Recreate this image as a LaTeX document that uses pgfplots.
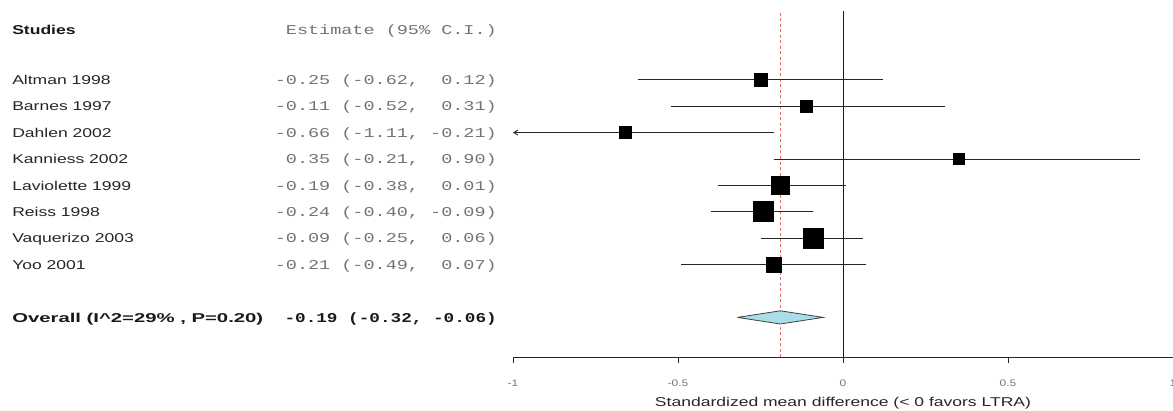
\documentclass[border=0pt]{standalone}
\usepackage{pgfplots}
\pgfplotsset{compat=1.18}
\usepackage{graphicx}
\usepackage{fontspec}
\setmainfont{Liberation Sans}
\setmonofont{Liberation Mono}
\usetikzlibrary{arrows.meta}
\definecolor{diam}{HTML}{A9DDE8}
\definecolor{redl}{HTML}{E06868}
\newcommand{\sx}[1]{\scalebox{1.37}[1]{#1}}
\newcommand{\tl}[1]{\scalebox{1.25}[1]{#1}}
\newcommand{\sfnt}{\fontsize{12.8}{15}\selectfont}
\newcommand{\mfnt}{\fontsize{13.5}{15}\selectfont\ttfamily}
\begin{document}
\begin{tikzpicture}[x=1pt,y=1pt]
\path[use as bounding box] (0,0) rectangle (1173,410);
\begin{axis}[
  at={(513pt,53pt)}, anchor=south west,
  scale only axis, width=660pt, height=345.84pt,
  xmin=-1, xmax=1, ymin=-1.5, ymax=11.6,
  clip=false,
  axis x line*=bottom, axis y line=none,
  x axis line style={-, draw=black!85, line width=0.8pt},
  xtick={-1,-0.5,0,0.5,1},
  xticklabels={\tl{-1},\tl{-0.5},\tl{0},\tl{0.5},\tl{1}},
  tick align=outside, major tick length=6pt,
  xtick style={draw=black!85, line width=0.8pt},
  xticklabel style={text=black!55, font=\fontsize{9.5}{10}\selectfont, yshift=-13pt},
  xlabel={\sx{Standardized mean difference (< 0 favors LTRA)}},
  xlabel style={at={(axis description cs:0.5,0)}, anchor=base, yshift=-49pt, text=black!85, font=\sfnt},
]
% reference lines
\addplot[black!90, line width=0.8pt] coordinates {(0,-1.5) (0,11.6)};
\addplot[redl, line width=0.8pt, dash pattern=on 3pt off 2.5pt] coordinates {(-0.19,-1.5) (-0.19,11.6)};
% confidence intervals
\addplot[black!85, line width=0.9pt] coordinates {(-0.62,9) (0.12,9)};
\addplot[black!85, line width=0.9pt] coordinates {(-0.52,8) (0.31,8)};
\addplot[black!85, line width=0.9pt, -{Straight Barb[length=4pt,width=5pt]}] coordinates {(-0.21,7) (-1.0,7)};
\addplot[black!85, line width=0.9pt] coordinates {(-0.21,6) (0.90,6)};
\addplot[black!85, line width=0.9pt] coordinates {(-0.38,5) (0.01,5)};
\addplot[black!85, line width=0.9pt] coordinates {(-0.40,4) (-0.09,4)};
\addplot[black!85, line width=0.9pt] coordinates {(-0.25,3) (0.06,3)};
\addplot[black!85, line width=0.9pt] coordinates {(-0.49,2) (0.07,2)};
% point estimates
\addplot[only marks, mark=square*, mark size=6.5pt, black, mark options={line width=0pt}] coordinates {(-0.25,9)};
\addplot[only marks, mark=square*, mark size=6pt, black, mark options={line width=0pt}] coordinates {(-0.11,8)};
\addplot[only marks, mark=square*, mark size=6pt, black, mark options={line width=0pt}] coordinates {(-0.66,7)};
\addplot[only marks, mark=square*, mark size=5.5pt, black, mark options={line width=0pt}] coordinates {(0.35,6)};
\addplot[only marks, mark=square*, mark size=9pt, black, mark options={line width=0pt}] coordinates {(-0.19,5)};
\addplot[only marks, mark=square*, mark size=10pt, black, mark options={line width=0pt}] coordinates {(-0.24,4)};
\addplot[only marks, mark=square*, mark size=10pt, black, mark options={line width=0pt}] coordinates {(-0.09,3)};
\addplot[only marks, mark=square*, mark size=7.5pt, black, mark options={line width=0pt}] coordinates {(-0.21,2)};
% overall diamond
\addplot[fill=diam, draw=black!75, line width=0.8pt] coordinates {(-0.32,0) (-0.19,0.25) (-0.06,0) (-0.19,-0.25) (-0.32,0)};
% left text columns
\node[anchor=base west, inner sep=0pt, yshift=-4.6pt, text=black!90, font=\sfnt\bfseries] at (axis cs:-2.518,10.894) {\sx{Studies}};
\node[anchor=base east, inner sep=0pt, yshift=-4.6pt, text=black!55, font=\mfnt] at (axis cs:-1.0485,10.894) {\sx{Estimate~(95\%~C.I.)}};
\node[anchor=base west, inner sep=0pt, yshift=-4.6pt, text=black!85, font=\sfnt] at (axis cs:-2.518,9) {\sx{Altman 1998}};
\node[anchor=base west, inner sep=0pt, yshift=-4.6pt, text=black!85, font=\sfnt] at (axis cs:-2.518,8) {\sx{Barnes 1997}};
\node[anchor=base west, inner sep=0pt, yshift=-4.6pt, text=black!85, font=\sfnt] at (axis cs:-2.518,7) {\sx{Dahlen 2002}};
\node[anchor=base west, inner sep=0pt, yshift=-4.6pt, text=black!85, font=\sfnt] at (axis cs:-2.518,6) {\sx{Kanniess 2002}};
\node[anchor=base west, inner sep=0pt, yshift=-4.6pt, text=black!85, font=\sfnt] at (axis cs:-2.518,5) {\sx{Laviolette 1999}};
\node[anchor=base west, inner sep=0pt, yshift=-4.6pt, text=black!85, font=\sfnt] at (axis cs:-2.518,4) {\sx{Reiss 1998}};
\node[anchor=base west, inner sep=0pt, yshift=-4.6pt, text=black!85, font=\sfnt] at (axis cs:-2.518,3) {\sx{Vaquerizo 2003}};
\node[anchor=base west, inner sep=0pt, yshift=-4.6pt, text=black!85, font=\sfnt] at (axis cs:-2.518,2) {\sx{Yoo 2001}};
\node[anchor=base west, inner sep=0pt, yshift=-4.6pt, text=black!90, font=\sfnt\bfseries] at (axis cs:-2.518,0) {\resizebox{251pt}{\height}{Overall (I\textasciicircum 2=29\% , P=0.20)}};
\node[anchor=base east, inner sep=0pt, yshift=-4.6pt, text=black!55, font=\mfnt] at (axis cs:-1.0485,9) {\sx{-0.25~(-0.62,~~0.12)}};
\node[anchor=base east, inner sep=0pt, yshift=-4.6pt, text=black!55, font=\mfnt] at (axis cs:-1.0485,8) {\sx{-0.11~(-0.52,~~0.31)}};
\node[anchor=base east, inner sep=0pt, yshift=-4.6pt, text=black!55, font=\mfnt] at (axis cs:-1.0485,7) {\sx{-0.66~(-1.11,~-0.21)}};
\node[anchor=base east, inner sep=0pt, yshift=-4.6pt, text=black!55, font=\mfnt] at (axis cs:-1.0485,6) {\sx{0.35~(-0.21,~~0.90)}};
\node[anchor=base east, inner sep=0pt, yshift=-4.6pt, text=black!55, font=\mfnt] at (axis cs:-1.0485,5) {\sx{-0.19~(-0.38,~~0.01)}};
\node[anchor=base east, inner sep=0pt, yshift=-4.6pt, text=black!55, font=\mfnt] at (axis cs:-1.0485,4) {\sx{-0.24~(-0.40,~-0.09)}};
\node[anchor=base east, inner sep=0pt, yshift=-4.6pt, text=black!55, font=\mfnt] at (axis cs:-1.0485,3) {\sx{-0.09~(-0.25,~~0.06)}};
\node[anchor=base east, inner sep=0pt, yshift=-4.6pt, text=black!55, font=\mfnt] at (axis cs:-1.0485,2) {\sx{-0.21~(-0.49,~~0.07)}};
\node[anchor=base east, inner sep=0pt, yshift=-4.6pt, text=black!90, font=\mfnt\bfseries] at (axis cs:-1.0485,0) {\scalebox{1.31}[1]{-0.19~(-0.32,~-0.06)}};
\end{axis}
\end{tikzpicture}
\end{document}
